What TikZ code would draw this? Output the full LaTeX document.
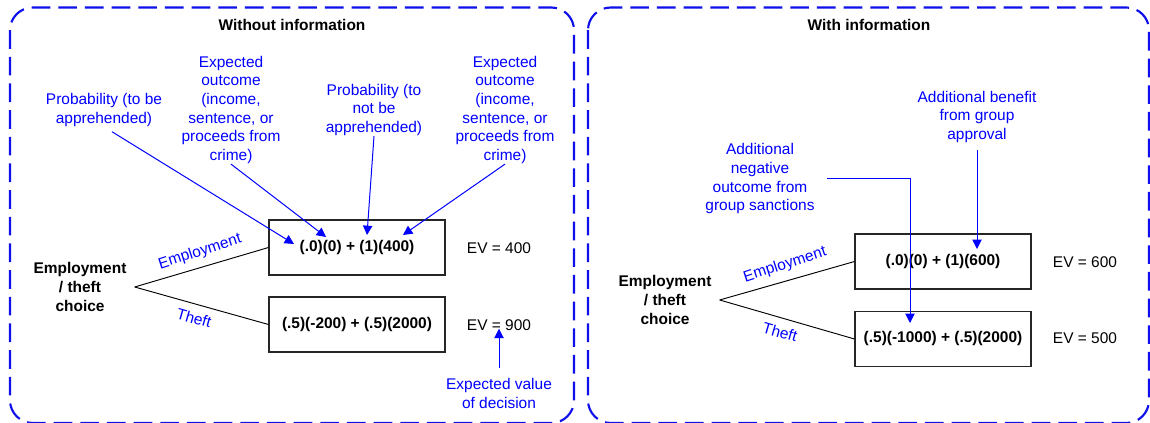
\documentclass[tikz,border=0pt]{standalone}
\usepackage{fontspec}
\setmainfont{Liberation Sans}
\usetikzlibrary{arrows.meta}
\definecolor{noteblue}{RGB}{0,0,255}
\definecolor{frameblue}{RGB}{15,15,235}
\newcommand\diagfont{\fontsize{11.6}{14}\selectfont}
\begin{document}
\begin{tikzpicture}[x=0.75pt,y=-0.75pt,
  every node/.style={font=\diagfont, inner sep=0pt},
  panel/.style={draw=frameblue, line width=1.6pt, dash pattern=on 14pt off 6pt, rounded corners=17pt},
  title/.style={font=\diagfont\bfseries},
  note/.style={text=noteblue, align=center},
  choice/.style={font=\diagfont\bfseries, align=center, inner xsep=6pt},
  sumbox/.style={draw=black!85, line width=0.8pt, minimum width=132pt, minimum height=41.25pt, font=\diagfont\bfseries},
  branch/.style={line width=0.7pt, black},
  lbl/.style={text=noteblue},
  pointer/.style={noteblue, line width=0.75pt, -{Triangle[length=7pt,width=7pt]}},
]
\useasboundingbox (0,0) rectangle (1150,423);

% ---------- panel 1: decision without information ----------
\draw[panel] (10,7.5) rectangle (574,423);
\node[title] (t1) at (292,25) {Without information};
\node[note] (p1) at (104,110) {Probability (to be\\apprehended)};
\node[note] (o1) at (231,110) {Expected\\outcome\\(income,\\sentence, or\\proceeds from\\crime)};
\node[note] (p2) at (374,110) {Probability (to\\not be\\apprehended)};
\node[note] (o2) at (505,110) {Expected\\outcome\\(income,\\sentence, or\\proceeds from\\crime)};

\node[choice] (c1) at (80,287) {Employment\\/ theft\\choice};
\node[sumbox] (b1) at (357,247.5) {(.0)(0) + (1)(400)};
\node[sumbox] (b2) at (357,324.5) {(.5)(-200) + (.5)(2000)};
\node (e1) at (499,248) {EV = 400};
\node (e2) at (499,325) {EV = 900};
\node[note] (d1) at (499,393.5) {Expected value\\of decision};

\draw[branch] (c1.east) -- (b1.west);
\draw[branch] (c1.east) -- (b2.west);
\node[lbl, rotate=18] (l1) at (200,252) {Employment};
\node[lbl, rotate=-16] (l2) at (194,318) {Theft};

\coordinate (a1) at (294,244);
\coordinate (a2) at (326,237);
\coordinate (a3) at (367,235);
\coordinate (a4) at (403,235);
\draw[pointer, shorten <=7pt] (p1.south) -- (a1);
\draw[pointer] (o1.south) -- (a2);
\draw[pointer] (p2.south) -- (a3);
\draw[pointer] (o2.south) -- (a4);
\draw[pointer, shorten <=8pt, shorten >=-1.5pt] (d1.north) -- (e2.south);

% ---------- panel 2: decision with information ----------
\draw[panel] (588,7.5) rectangle (1149,423);
\node[title] (t2) at (869,25) {With information};
\node[note] (g1) at (977,117) {Additional benefit\\from group\\approval};
\node[note, inner xsep=9pt] (g2) at (760,179) {Additional\\negative\\outcome from\\group sanctions};

\node[choice] (c2) at (665,300) {Employment\\/ theft\\choice};
\node[sumbox] (b3) at (943,261.5) {(.0)(0) + (1)(600)};
\node[sumbox] (b4) at (943,339) {(.5)(-1000) + (.5)(2000)};
\node (e3) at (1085,262) {EV = 600};
\node (e4) at (1085,338) {EV = 500};

\draw[branch] (c2.east) -- (b3.west);
\draw[branch] (c2.east) -- (b4.west);
\node[lbl, rotate=18] (l3) at (785,265) {Employment};
\node[lbl, rotate=-16] (l4) at (780,332) {Theft};

\coordinate (a5) at (977,249);
\coordinate (a6) at (910,323);
\draw[pointer, shorten <=5.5pt] (g1.south) -- (a5);
\draw[pointer] (g2.east) -| (a6);
\end{tikzpicture}
\end{document}
